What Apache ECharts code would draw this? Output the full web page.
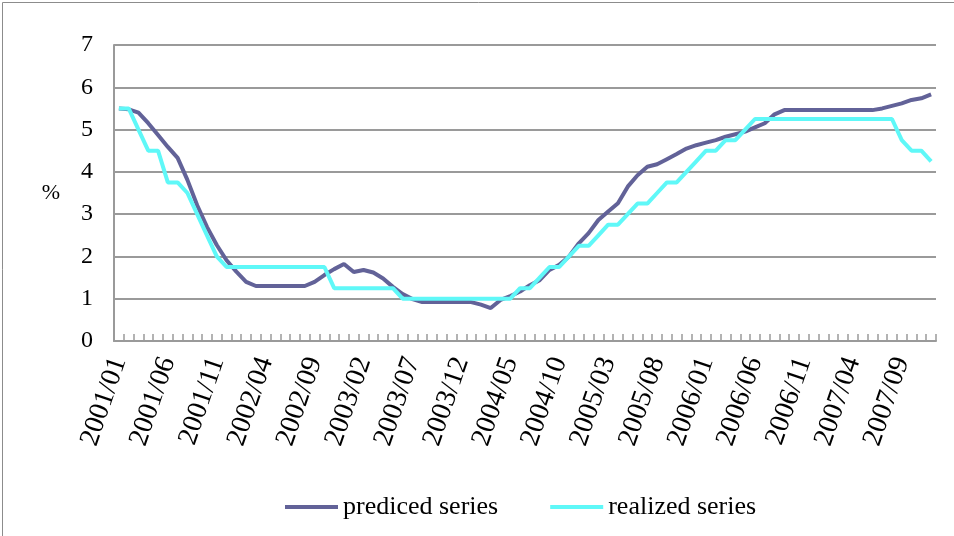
<!DOCTYPE html>
<html>
<head>
<meta charset="utf-8">
<script src="https://cdn.jsdelivr.net/npm/echarts@6/dist/echarts.min.js"></script>
<style>html,body{margin:0;padding:0;background:#fff;}#c{width:954px;height:536px;}</style>
</head>
<body>
<div id="c"></div>
<script>
// months 2001/01 .. 2007/12
const categories = [];
for (let y = 2001; y <= 2007; y++) for (let m = 1; m <= 12; m++) categories.push(y + '/' + (m < 10 ? '0' + m : m));

const predicted = [
  5.50, 5.48, 5.40, 5.15, 4.87, 4.59, 4.33, 3.81, 3.21, 2.70, 2.27, 1.91,
  1.64, 1.40, 1.30, 1.30, 1.30, 1.30, 1.30, 1.30, 1.40, 1.56, 1.70, 1.82,
  1.63, 1.68, 1.62, 1.48, 1.28, 1.11, 0.99, 0.92, 0.92, 0.92, 0.92, 0.92,
  0.92, 0.86, 0.78, 0.97, 1.06, 1.17, 1.32, 1.44, 1.68, 1.80, 2.00, 2.31,
  2.55, 2.86, 3.06, 3.26, 3.65, 3.92, 4.12, 4.18, 4.30, 4.42, 4.55, 4.63,
  4.69, 4.75, 4.83, 4.89, 4.95, 5.05, 5.15, 5.36, 5.46, 5.46, 5.46, 5.46,
  5.46, 5.46, 5.46, 5.46, 5.46, 5.46, 5.50, 5.56, 5.62, 5.70, 5.74, 5.83
];
const realized = [
  5.50, 5.50, 5.00, 4.50, 4.50, 3.75, 3.75, 3.50, 3.00, 2.50, 2.00, 1.75,
  1.75, 1.75, 1.75, 1.75, 1.75, 1.75, 1.75, 1.75, 1.75, 1.75, 1.25, 1.25,
  1.25, 1.25, 1.25, 1.25, 1.25, 1.00, 1.00, 1.00, 1.00, 1.00, 1.00, 1.00,
  1.00, 1.00, 1.00, 1.00, 1.00, 1.25, 1.25, 1.50, 1.75, 1.75, 2.00, 2.25,
  2.25, 2.50, 2.75, 2.75, 3.00, 3.25, 3.25, 3.50, 3.75, 3.75, 4.00, 4.25,
  4.50, 4.50, 4.75, 4.75, 5.00, 5.25, 5.25, 5.25, 5.25, 5.25, 5.25, 5.25,
  5.25, 5.25, 5.25, 5.25, 5.25, 5.25, 5.25, 5.25, 4.75, 4.50, 4.50, 4.25
];
const yTicks = [0, 1, 2, 3, 4, 5, 6, 7];

const font = '"Liberation Serif", "Times New Roman", serif';
const chart = echarts.init(document.getElementById('c'));
chart.setOption({
  animation: false,
  backgroundColor: '#fff',
  graphic: [{
    type: 'rect', left: 0, top: 0,
    shape: { x: 0.5, y: 0.5, width: 953, height: 535 },
    style: { fill: 'none', stroke: '#8c8c8c', lineWidth: 1 }
  }],
  grid: { left: 114, right: 18, top: 45, bottom: 195, containLabel: false },
  legend: {
    left: 280, top: 489,
    itemWidth: 53, itemHeight: 4, itemGap: 52,
    icon: 'rect',
    textStyle: { fontFamily: font, fontSize: 26, color: '#000' },
    data: ['prediced series', 'realized series']
  },
  xAxis: {
    type: 'category',
    data: categories,
    boundaryGap: true,
    axisLine: { lineStyle: { color: '#9a9a9a', width: 2 } },
    axisTick: { show: true, inside: true, length: 7, interval: 0, lineStyle: { color: '#9a9a9a', width: 1.5 } },
    axisLabel: {
      interval: 4, rotate: 71, margin: 17,
      fontFamily: font, fontSize: 28, color: '#000'
    }
  },
  yAxis: {
    type: 'value', min: 0, max: 7, interval: 1,
    name: '%', nameLocation: 'middle', nameGap: 54, nameRotate: 0,
    nameTextStyle: { fontFamily: font, fontSize: 22, color: '#000' },
    axisLine: { show: true, lineStyle: { color: '#9a9a9a', width: 2 } },
    axisTick: { show: false },
    splitLine: { lineStyle: { color: '#9a9a9a', width: 2 } },
    axisLabel: {
      margin: 21, fontFamily: font, fontSize: 24, color: '#000',
      formatter: v => yTicks.includes(v) ? String(v) : ''
    }
  },
  series: [
    {
      name: 'prediced series', type: 'line', data: predicted,
      showSymbol: false, symbol: 'none',
      lineStyle: { color: '#626298', width: 4 },
      itemStyle: { color: '#626298' }
    },
    {
      name: 'realized series', type: 'line', data: realized,
      showSymbol: false, symbol: 'none',
      lineStyle: { color: '#5ff8f8', width: 4 },
      itemStyle: { color: '#5ff8f8' }
    }
  ]
});
</script>
</body>
</html>
